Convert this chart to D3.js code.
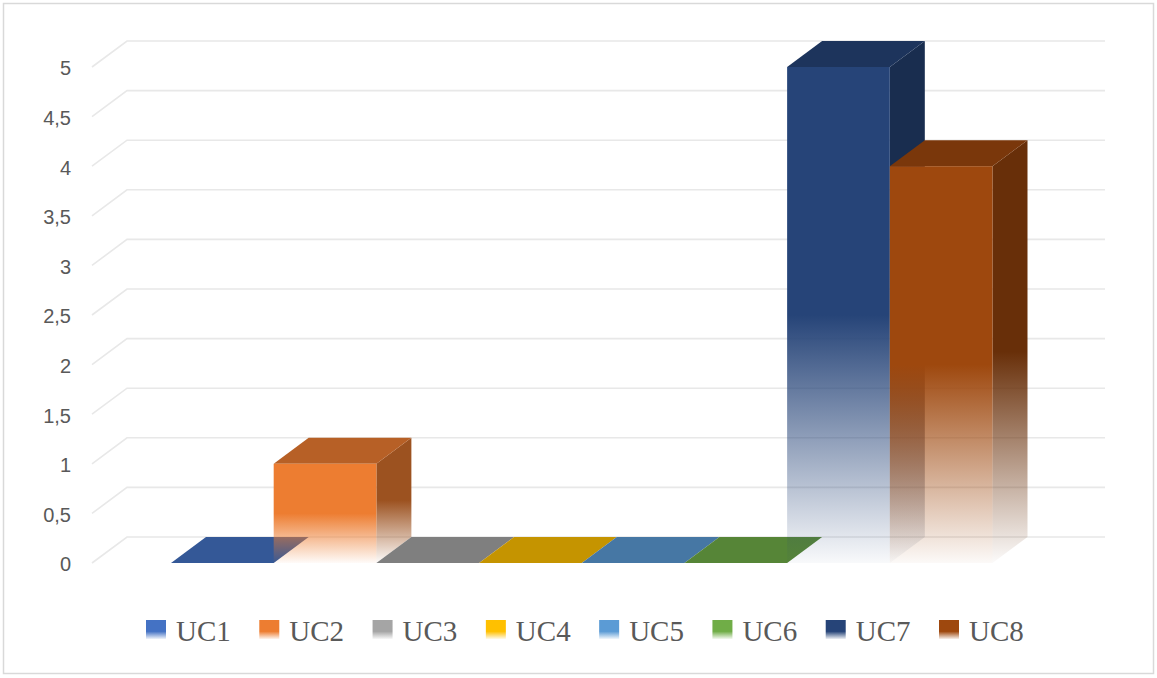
<!DOCTYPE html>
<html>
<head>
<meta charset="utf-8">
<script src="https://cdn.jsdelivr.net/npm/d3@7"></script>
<style>
  html, body { margin: 0; padding: 0; background: #ffffff; }
  svg { display: block; }
</style>
</head>
<body>
<svg id="chart" width="1157" height="678"></svg>
<script>
// Series of the single category, one 3D column each
const series = ["UC1", "UC2", "UC3", "UC4", "UC5", "UC6", "UC7", "UC8"];
const values = [0, 1, 0, 0, 0, 0, 5, 4];
const colors = ["#4472C4", "#ED7D31", "#A5A5A5", "#FFC000", "#5B9BD5", "#70AD47", "#264478", "#9E480E"];

// Value axis ticks and their labels (decimal comma)
const tickValues = [0, 0.5, 1, 1.5, 2, 2.5, 3, 3.5, 4, 4.5, 5];
const tickLabels = ["0", "0,5", "1", "1,5", "2", "2,5", "3", "3,5", "4", "4,5", "5"];

const W = 1157, H = 678;
const svg = d3.select("#chart");
const defs = svg.append("defs");

// outer chart frame
svg.append("rect")
  .attr("x", 3.5).attr("y", 3.5)
  .attr("width", W - 7).attr("height", H - 8)
  .attr("fill", "#ffffff")
  .attr("stroke", "#d9d9d9")
  .attr("stroke-width", 1.5);

// oblique depth of the 3D box
const depthX = 35, depthY = -26;

const y = d3.scaleLinear().domain([0, 5]).range([563, 67]);
const x = d3.scaleBand().domain(series).range([171, 992.5]).paddingInner(0);

const wallLeft = 92, wallRight = 1105;

// gridlines: short diagonal on the side wall, then across the back wall
const grid = svg.append("g").attr("class", "grid");
grid.selectAll("path")
  .data(tickValues)
  .join("path")
  .attr("d", v => {
    const yy = y(v);
    return `M${wallLeft},${yy}L${wallLeft + depthX},${yy + depthY}L${wallRight},${yy + depthY}`;
  })
  .attr("fill", "none")
  .attr("stroke", "#e8e8e8")
  .attr("stroke-width", 1.6);

// value axis labels
const axis = d3.axisLeft(y)
  .tickValues(tickValues)
  .tickFormat((d, i) => tickLabels[i])
  .tickSize(0)
  .tickPadding(21);

const axisG = svg.append("g")
  .attr("transform", `translate(${wallLeft},1.5)`)
  .call(axis);
axisG.select(".domain").remove();
axisG.selectAll("text")
  .attr("fill", "#595959")
  .style("font-family", "'Liberation Sans', Arial, sans-serif")
  .style("font-size", "20px");

// fading gradients: opaque upper half, fading to white at the base
function fadeGradient(id, color, solidTo, endOpacity) {
  const g = defs.append("linearGradient")
    .attr("id", id)
    .attr("x1", 0).attr("y1", 0).attr("x2", 0).attr("y2", 1);
  g.append("stop").attr("offset", 0).attr("stop-color", color).attr("stop-opacity", 1);
  g.append("stop").attr("offset", solidTo).attr("stop-color", color).attr("stop-opacity", 1);
  g.append("stop").attr("offset", 1).attr("stop-color", color).attr("stop-opacity", endOpacity);
}

const topShade = c => d3.rgb(c).darker(0.73).formatHex();
const sideShade = c => d3.rgb(c).darker(1.17).formatHex();

colors.forEach((c, i) => {
  fadeGradient(`front-${i}`, c, 0.5, 0.03);
  fadeGradient(`side-${i}`, sideShade(c), 0.5, 0.02);
  fadeGradient(`legend-${i}`, c, 0.6, 0.08);
});

// columns drawn left to right: side, top, then front face
const bars = svg.append("g").attr("class", "bars")
  .selectAll("g")
  .data(series.map((s, i) => ({ s, i, v: values[i], c: colors[i] })))
  .join("g");

bars.each(function (d) {
  const g = d3.select(this);
  const x0 = x(d.s), x1 = x0 + x.bandwidth();
  const yTop = y(d.v), yBase = y(0);

  if (yBase - yTop > 0.5) {
    g.append("path")
      .attr("d", `M${x1},${yBase}L${x1 + depthX},${yBase + depthY}L${x1 + depthX},${yTop + depthY}L${x1},${yTop}Z`)
      .attr("fill", `url(#side-${d.i})`);
  }
  g.append("path")
    .attr("d", `M${x0},${yTop}L${x1},${yTop}L${x1 + depthX},${yTop + depthY}L${x0 + depthX},${yTop + depthY}Z`)
    .attr("fill", topShade(d.c));
  if (yBase - yTop > 0.5) {
    g.append("rect")
      .attr("x", x0).attr("y", yTop)
      .attr("width", x.bandwidth()).attr("height", yBase - yTop)
      .attr("fill", `url(#front-${d.i})`);
  }
});

// legend
const lx = d3.scalePoint().domain(series).range([146, 939]);
const legend = svg.append("g").attr("class", "legend")
  .selectAll("g")
  .data(series)
  .join("g")
  .attr("transform", s => `translate(${lx(s)},620)`);

legend.append("rect")
  .attr("width", 20).attr("height", 19)
  .attr("fill", (s, i) => `url(#legend-${i})`);

legend.append("text")
  .attr("x", 30).attr("y", 20.5)
  .attr("fill", "#595959")
  .style("font-family", "'Liberation Serif', 'Times New Roman', serif")
  .style("font-size", "29px")
  .text(s => s);
</script>
</body>
</html>
